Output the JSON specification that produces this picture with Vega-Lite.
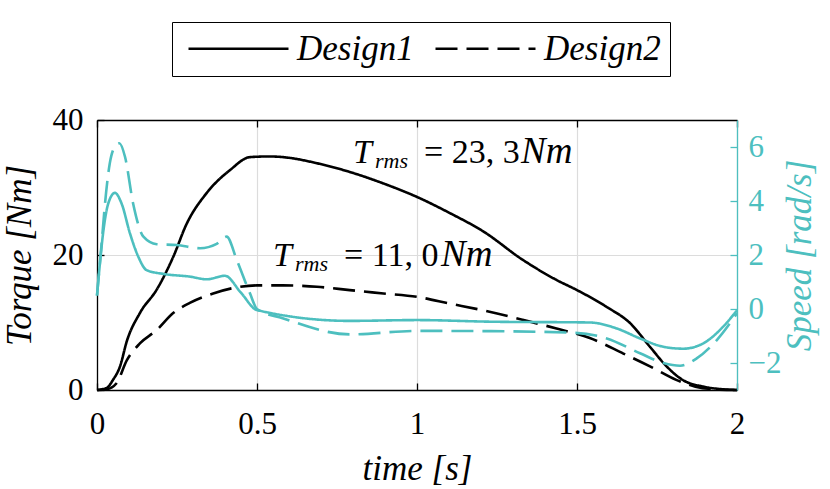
{
  "$schema": "https://vega.github.io/schema/vega-lite/v6.json",
  "width": 640,
  "height": 270,
  "autosize": {"type": "none"},
  "padding": {"left": 97, "top": 120, "right": 93, "bottom": 99},
  "background": "white",
  "config": {
    "view": {"stroke": null},
    "font": "Liberation Serif",
    "text": {"font": "Liberation Serif"},
    "axis": {
      "labelFont": "Liberation Serif",
      "labelFontSize": 31,
      "labelFlush": false,
      "titleFont": "Liberation Serif",
      "titleFontSize": 35,
      "titleFontWeight": "normal",
      "titleFontStyle": "italic",
      "labelColor": "black",
      "titleColor": "black",
      "domainColor": "black",
      "tickColor": "black",
      "domainWidth": 1.3,
      "tickWidth": 1.3,
      "tickSize": -7,
      "gridColor": "#dcdcdc",
      "gridWidth": 1.2
    }
  },
  "datasets": {
    "torque": [
      {"t": 0, "design": "Design1", "torque": 0},
      {"t": 0.03, "design": "Design1", "torque": 0.3},
      {"t": 0.05, "design": "Design1", "torque": 1.5},
      {"t": 0.072, "design": "Design1", "torque": 3.5},
      {"t": 0.093, "design": "Design1", "torque": 7.2},
      {"t": 0.134, "design": "Design1", "torque": 11.4},
      {"t": 0.187, "design": "Design1", "torque": 14.9},
      {"t": 0.238, "design": "Design1", "torque": 19.7},
      {"t": 0.28, "design": "Design1", "torque": 24.6},
      {"t": 0.343, "design": "Design1", "torque": 29.2},
      {"t": 0.416, "design": "Design1", "torque": 32.6},
      {"t": 0.478, "design": "Design1", "torque": 34.5},
      {"t": 0.54, "design": "Design1", "torque": 34.6},
      {"t": 0.6, "design": "Design1", "torque": 34.4},
      {"t": 0.687, "design": "Design1", "torque": 33.6},
      {"t": 0.79, "design": "Design1", "torque": 32.3},
      {"t": 0.895, "design": "Design1", "torque": 30.6},
      {"t": 1.0, "design": "Design1", "torque": 28.6},
      {"t": 1.103, "design": "Design1", "torque": 26.2},
      {"t": 1.207, "design": "Design1", "torque": 23.5},
      {"t": 1.33, "design": "Design1", "torque": 19.3},
      {"t": 1.436, "design": "Design1", "torque": 16.3},
      {"t": 1.5, "design": "Design1", "torque": 14.8},
      {"t": 1.593, "design": "Design1", "torque": 12.3},
      {"t": 1.666, "design": "Design1", "torque": 9.9},
      {"t": 1.728, "design": "Design1", "torque": 6.4},
      {"t": 1.78, "design": "Design1", "torque": 3.5},
      {"t": 1.83, "design": "Design1", "torque": 1.5},
      {"t": 1.895, "design": "Design1", "torque": 0.5},
      {"t": 1.96, "design": "Design1", "torque": 0.1},
      {"t": 2.0, "design": "Design1", "torque": 0},
      {"t": 0, "design": "Design2", "torque": 0},
      {"t": 0.03, "design": "Design2", "torque": 0.1},
      {"t": 0.061, "design": "Design2", "torque": 1.0},
      {"t": 0.093, "design": "Design2", "torque": 4.4},
      {"t": 0.134, "design": "Design2", "torque": 6.9},
      {"t": 0.187, "design": "Design2", "torque": 8.9},
      {"t": 0.238, "design": "Design2", "torque": 11.4},
      {"t": 0.29, "design": "Design2", "torque": 12.9},
      {"t": 0.363, "design": "Design2", "torque": 14.3},
      {"t": 0.425, "design": "Design2", "torque": 15.1},
      {"t": 0.5, "design": "Design2", "torque": 15.5},
      {"t": 0.58, "design": "Design2", "torque": 15.5},
      {"t": 0.687, "design": "Design2", "torque": 15.3},
      {"t": 0.79, "design": "Design2", "torque": 14.8},
      {"t": 0.895, "design": "Design2", "torque": 14.3},
      {"t": 1.0, "design": "Design2", "torque": 13.8},
      {"t": 1.103, "design": "Design2", "torque": 12.8},
      {"t": 1.207, "design": "Design2", "torque": 11.8},
      {"t": 1.33, "design": "Design2", "torque": 10.4},
      {"t": 1.436, "design": "Design2", "torque": 9.1},
      {"t": 1.54, "design": "Design2", "torque": 7.7},
      {"t": 1.645, "design": "Design2", "torque": 5.4},
      {"t": 1.728, "design": "Design2", "torque": 3.5},
      {"t": 1.81, "design": "Design2", "torque": 1.5},
      {"t": 1.87, "design": "Design2", "torque": 0.5},
      {"t": 1.93, "design": "Design2", "torque": 0.1},
      {"t": 2.0, "design": "Design2", "torque": 0}
    ],
    "speed": [
      {"t": 0, "design": "Design1", "speed": 0.5},
      {"t": 0.01, "design": "Design1", "speed": 1.8},
      {"t": 0.02, "design": "Design1", "speed": 2.9},
      {"t": 0.035, "design": "Design1", "speed": 3.9},
      {"t": 0.056, "design": "Design1", "speed": 4.3},
      {"t": 0.077, "design": "Design1", "speed": 3.9},
      {"t": 0.103, "design": "Design1", "speed": 2.8},
      {"t": 0.129, "design": "Design1", "speed": 1.94},
      {"t": 0.155, "design": "Design1", "speed": 1.44},
      {"t": 0.207, "design": "Design1", "speed": 1.3},
      {"t": 0.29, "design": "Design1", "speed": 1.2},
      {"t": 0.343, "design": "Design1", "speed": 1.1},
      {"t": 0.4, "design": "Design1", "speed": 1.23},
      {"t": 0.45, "design": "Design1", "speed": 0.6},
      {"t": 0.5, "design": "Design1", "speed": -0.04},
      {"t": 0.79, "design": "Design1", "speed": -0.44},
      {"t": 1.0, "design": "Design1", "speed": -0.41},
      {"t": 1.228, "design": "Design1", "speed": -0.47},
      {"t": 1.54, "design": "Design1", "speed": -0.5},
      {"t": 1.624, "design": "Design1", "speed": -0.72},
      {"t": 1.697, "design": "Design1", "speed": -1.09},
      {"t": 1.77, "design": "Design1", "speed": -1.4},
      {"t": 1.832, "design": "Design1", "speed": -1.47},
      {"t": 1.895, "design": "Design1", "speed": -1.27},
      {"t": 1.957, "design": "Design1", "speed": -0.65},
      {"t": 2.0, "design": "Design1", "speed": -0.05},
      {"t": 0, "design": "Design2", "speed": 0.5},
      {"t": 0.015, "design": "Design2", "speed": 2.5},
      {"t": 0.025, "design": "Design2", "speed": 3.9},
      {"t": 0.04, "design": "Design2", "speed": 5.4},
      {"t": 0.055, "design": "Design2", "speed": 6.0},
      {"t": 0.07, "design": "Design2", "speed": 6.14},
      {"t": 0.0875, "design": "Design2", "speed": 5.64},
      {"t": 0.113, "design": "Design2", "speed": 3.9},
      {"t": 0.145, "design": "Design2", "speed": 2.68},
      {"t": 0.187, "design": "Design2", "speed": 2.4},
      {"t": 0.249, "design": "Design2", "speed": 2.37},
      {"t": 0.322, "design": "Design2", "speed": 2.25},
      {"t": 0.374, "design": "Design2", "speed": 2.41},
      {"t": 0.405, "design": "Design2", "speed": 2.68},
      {"t": 0.437, "design": "Design2", "speed": 1.81},
      {"t": 0.478, "design": "Design2", "speed": 0.58},
      {"t": 0.5, "design": "Design2", "speed": 0.0},
      {"t": 0.58, "design": "Design2", "speed": -0.34},
      {"t": 0.79, "design": "Design2", "speed": -0.94},
      {"t": 1.0, "design": "Design2", "speed": -0.81},
      {"t": 1.228, "design": "Design2", "speed": -0.82},
      {"t": 1.49, "design": "Design2", "speed": -0.88},
      {"t": 1.593, "design": "Design2", "speed": -1.09},
      {"t": 1.697, "design": "Design2", "speed": -1.64},
      {"t": 1.77, "design": "Design2", "speed": -2.0},
      {"t": 1.822, "design": "Design2", "speed": -2.1},
      {"t": 1.874, "design": "Design2", "speed": -1.83},
      {"t": 1.937, "design": "Design2", "speed": -1.15},
      {"t": 2.0, "design": "Design2", "speed": -0.16}
    ],
    "notes": [
      {"t": 0.8, "torque": 33.7, "value": "= 23, 3"},
      {"t": 0.55, "torque": 18.3, "value": "= 11, 0"}
    ]
  },
  "layer": [
    {
      "layer": [
        {
          "data": {"name": "torque"},
          "mark": {"type": "line", "color": "black", "strokeWidth": 2.6, "interpolate": "monotone"},
          "encoding": {
            "x": {
              "field": "t", "type": "quantitative",
              "scale": {"domain": [0, 2], "nice": false},
              "axis": {"values": [0, 0.5, 1, 1.5, 2], "format": "~g", "title": "time [s]", "grid": true, "labelPadding": 26, "titlePadding": 12}
            },
            "y": {
              "field": "torque", "type": "quantitative",
              "scale": {"domain": [0, 40], "nice": false},
              "axis": {"values": [0, 20, 40], "title": "Torque [Nm]", "grid": true, "labelPadding": 21, "titlePadding": 15}
            },
            "strokeDash": {
              "field": "design", "type": "nominal",
              "scale": {"domain": ["Design1", "Design2"], "range": [[1, 0], [22, 9]]},
              "legend": {
                "orient": "none", "legendX": 75, "legendY": -98,
                "direction": "horizontal", "columns": 2, "title": null,
                "symbolType": "M-1,0H9", "symbolSize": 400, "symbolStrokeWidth": 2.6,
                "symbolStrokeColor": "black",
                "labelFont": "Liberation Serif", "labelFontSize": 35, "labelFontStyle": "italic",
                "labelColor": "black", "labelOffset": 81, "labelLimit": 300,
                "columnPadding": 14, "padding": 9,
                "strokeColor": "black", "fillColor": "white",
                "encode": {"symbols": {"update": {"stroke": {"value": "black"}}}}
              }
            }
          }
        },
        {
          "data": {"name": "notes"},
          "mark": {"type": "text", "text": "T", "align": "left", "baseline": "alphabetic", "fontSize": 34, "fontStyle": "italic", "color": "black"},
          "encoding": {
            "x": {"field": "t", "type": "quantitative"},
            "y": {"field": "torque", "type": "quantitative"}
          }
        },
        {
          "data": {"name": "notes"},
          "mark": {"type": "text", "text": "rms", "align": "left", "baseline": "alphabetic", "dx": 22, "dy": 5, "fontSize": 22, "fontStyle": "italic", "color": "black"},
          "encoding": {
            "x": {"field": "t", "type": "quantitative"},
            "y": {"field": "torque", "type": "quantitative"}
          }
        },
        {
          "data": {"name": "notes"},
          "mark": {"type": "text", "align": "left", "baseline": "alphabetic", "dx": 71, "fontSize": 34, "color": "black"},
          "encoding": {
            "x": {"field": "t", "type": "quantitative"},
            "y": {"field": "torque", "type": "quantitative"},
            "text": {"field": "value"}
          }
        },
        {
          "data": {"name": "notes"},
          "mark": {"type": "text", "text": "Nm", "align": "left", "baseline": "alphabetic", "dx": 168, "fontSize": 37, "fontStyle": "italic", "color": "black"},
          "encoding": {
            "x": {"field": "t", "type": "quantitative"},
            "y": {"field": "torque", "type": "quantitative"}
          }
        }
      ]
    },
    {
      "data": {"name": "speed"},
      "mark": {"type": "line", "color": "#4dbfbf", "strokeWidth": 2.6, "interpolate": "monotone"},
      "encoding": {
        "x": {
          "field": "t", "type": "quantitative",
          "axis": {"orient": "top", "values": [0, 0.5, 1, 1.5, 2], "labels": false, "title": null, "grid": false}
        },
        "y": {
          "field": "speed", "type": "quantitative",
          "scale": {"domain": [-3, 7], "nice": false},
          "axis": {
            "orient": "right", "values": [-2, 0, 2, 4, 6], "title": "Speed [rad/s]", "grid": false,
            "titleAngle": 270, "titleBaseline": "top", "labelPadding": 18, "titlePadding": 2, "zindex": 1,
            "domainColor": "#4dbfbf", "tickColor": "#4dbfbf", "labelColor": "#4dbfbf", "titleColor": "#4dbfbf"
          }
        },
        "strokeDash": {"field": "design", "type": "nominal"}
      }
    }
  ],
  "resolve": {"scale": {"y": "independent"}, "axis": {"x": "independent"}}
}
